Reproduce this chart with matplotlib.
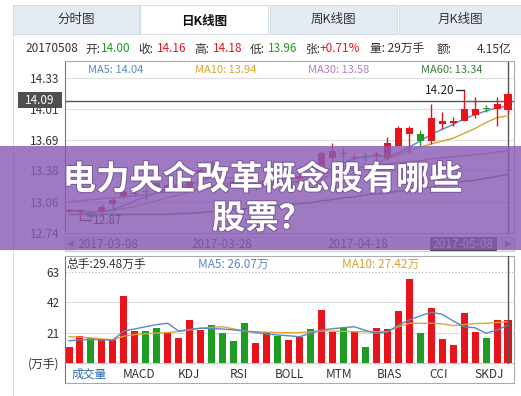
import matplotlib
matplotlib.use("Agg")
import matplotlib.pyplot as plt
from matplotlib.patches import Rectangle
from matplotlib.lines import Line2D
import matplotlib.patheffects as pe
import numpy as np

plt.rcParams['font.family'] = ['Noto Sans CJK SC', 'DejaVu Sans']

W, H = 521, 396

# ---- data ----
opens  = [12.96, 12.95, 12.94, 12.95, 13.04, 13.12, 13.14, 13.17, 13.25, 13.19, 13.22,
          13.21, 13.34, 13.46, 13.33, 13.27, 13.25, 13.20, 13.22, 13.28, 13.26, 13.29,
          13.36, 13.42, 13.51, 13.56, 13.51, 13.53, 13.54, 13.51, 13.63, 13.75, 13.75,
          13.68, 13.86, 13.87, 13.89, 13.95, 14.02, 14.01, 14.00]
closes = [12.97, 12.98, 12.90, 13.01, 13.08, 13.16, 13.15, 13.16, 13.20, 13.23, 13.24,
          13.26, 13.38, 13.40, 13.28, 13.24, 13.20, 13.23, 13.27, 13.25, 13.28, 13.32,
          13.33, 13.56, 13.58, 13.55, 13.52, 13.52, 13.55, 13.66, 13.81, 13.81, 13.68,
          13.92, 13.89, 13.88, 14.01, 14.01, 14.01, 14.06, 14.16]
highs  = [12.98, 12.99, 12.96, 13.04, 13.10, 13.18, 13.17, 13.22, 13.27, 13.25, 13.26,
          13.29, 13.41, 13.49, 13.36, 13.30, 13.28, 13.25, 13.29, 13.31, 13.31, 13.34,
          13.38, 13.58, 13.66, 13.62, 13.55, 13.56, 13.58, 13.72, 13.83, 13.83, 13.79,
          14.06, 13.98, 13.93, 14.20, 14.13, 14.05, 14.13, 14.18]
lows   = [12.95, 12.87, 12.89, 12.93, 12.99, 13.10, 13.12, 13.08, 13.18, 13.17, 13.20,
          13.19, 13.31, 13.32, 13.25, 13.21, 13.17, 13.18, 13.20, 13.23, 13.24, 13.27,
          13.31, 13.41, 13.48, 13.47, 13.48, 13.48, 13.46, 13.49, 13.63, 13.56, 13.63,
          13.65, 13.80, 13.84, 13.89, 13.92, 13.98, 13.83, 13.96]

ma5  = [12.97, 12.96, 12.95, 12.96, 12.98, 13.02, 13.07, 13.11, 13.15, 13.19, 13.22,
        13.24, 13.27, 13.31, 13.31, 13.30, 13.27, 13.25, 13.24, 13.24, 13.25, 13.27,
        13.29, 13.34, 13.40, 13.46, 13.50, 13.52, 13.53, 13.52, 13.56, 13.62, 13.68,
        13.75, 13.80, 13.85, 13.91, 13.95, 13.99, 14.02, 14.04]
ma10 = [12.98, 12.97, 12.96, 12.96, 12.97, 12.99, 13.01, 13.04, 13.07, 13.10, 13.13,
        13.16, 13.19, 13.22, 13.24, 13.26, 13.27, 13.27, 13.27, 13.26, 13.26, 13.26,
        13.27, 13.30, 13.33, 13.36, 13.39, 13.42, 13.45, 13.50, 13.54, 13.58, 13.62,
        13.65, 13.68, 13.71, 13.76, 13.81, 13.87, 13.92, 13.94]
ma30 = [13.06, 13.07, 13.08, 13.09, 13.10, 13.11, 13.12, 13.13, 13.15, 13.16, 13.17,
        13.18, 13.19, 13.21, 13.22, 13.23, 13.24, 13.25, 13.26, 13.28, 13.29, 13.30,
        13.32, 13.34, 13.36, 13.38, 13.40, 13.42, 13.44, 13.45, 13.46, 13.47, 13.48,
        13.50, 13.51, 13.52, 13.53, 13.54, 13.55, 13.57, 13.58]
ma60 = [12.93, 12.93, 12.93, 12.93, 12.93, 12.93, 12.93, 12.93, 12.93, 12.93, 12.94,
        12.94, 12.95, 12.96, 12.97, 12.98, 12.99, 13.00, 13.01, 13.02, 13.03, 13.04,
        13.05, 13.07, 13.08, 13.10, 13.11, 13.13, 13.14, 13.15, 13.17, 13.18, 13.20,
        13.21, 13.23, 13.25, 13.27, 13.28, 13.30, 13.32, 13.34]

volume = [11.2, 18.8, 17.0, 16.3, 16.3, 46.4, 22.3, 22.0, 24.1, 21.6, 17.5, 29.4, 22.8,
          26.4, 20.5, 15.2, 27.4, 13.6, 21.6, 18.6, 15.9, 17.7, 23.4, 36.6, 21.1, 24.4,
          21.1, 11.2, 24.4, 23.4, 35.9, 57.9, 20.9, 37.7, 16.8, 12.2, 34.3, 21.1, 17.5,
          29.4, 29.48]
vol_ma5 = [15.4, 15.9, 16.2, 15.9, 15.9, 22.0, 23.5, 25.0, 26.5, 27.4, 22.0, 23.2, 24.0,
           23.8, 23.4, 22.8, 22.0, 21.0, 20.0, 19.3, 18.8, 18.1, 20.5, 22.8, 23.6, 24.4,
           25.0, 22.5, 20.5, 21.4, 26.0, 29.7, 32.5, 35.0, 33.6, 29.0, 25.0, 24.3, 20.5,
           22.8, 26.1]
vol_ma10 = [18.1, 17.8, 17.3, 16.6, 16.0, 18.5, 19.6, 20.2, 20.6, 20.9, 21.8, 22.8, 24.0,
            24.6, 25.0, 23.5, 22.0, 21.6, 21.3, 21.0, 20.9, 21.0, 21.4, 22.0, 22.0, 21.8,
            21.6, 21.5, 21.6, 21.6, 25.0, 27.4, 27.4, 27.4, 27.0, 25.8, 26.5, 27.2, 27.4,
            27.9, 28.5]

price_ticks = [12.74, 13.06, 13.38, 13.69, 14.01, 14.33]
vol_ticks = [0, 21, 42, 63]
vol_tick_labels = ['(万手)', '21', '42', '63']
dates = ['2017-03-08', '2017-03-28', '2017-04-18', '2017-05-08']
date_px = [108, 222, 358, 463]
tabs = ['分时图', '日K线图', '周K线图', '月K线图']
indicators = ['成交量', 'MACD', 'KDJ', 'RSI', 'BOLL', 'MTM', 'BIAS', 'CCI', 'SKDJ']

RED = '#e8141c'
GREEN = '#1f9c22'
C_MA5 = '#5b88c4'
C_MA10 = '#d6a32e'
C_MA30 = '#b07ccc'
C_MA60 = '#3a7d3a'
TXT = '#333333'


def fx(px):
    return px / W


def fy(py):
    return 1 - py / H


fig = plt.figure(figsize=(5.21, 3.96), dpi=100)
fig.patch.set_facecolor('white')

# ---- tabs ----
tab_x = [(13, 139), (140, 268), (270, 397), (399, 521)]
for i, (name, (a, b)) in enumerate(zip(tabs, tab_x)):
    active = (i == 1)
    fig.add_artist(Rectangle((fx(a), fy(34)), (b - a) / W, 29 / H, transform=fig.transFigure,
                             facecolor='white' if active else '#e5ebf2',
                             edgecolor='#d3dbe4', lw=0.8))
    fig.text(fx((a + b) / 2), fy(21 if active else 19), name, ha='center', va='center',
             fontsize=9, color='#111111' if active else '#333333',
             fontweight='bold' if active else 'normal')
fig.add_artist(Line2D([fx(13), fx(13)], [fy(34), 0], transform=fig.transFigure,
                      color='#dddddd', lw=0.8))

# ---- info line ----
info = [(25, '20170508', TXT), (85, '开:', TXT), (101, '14.00', GREEN),
        (138, '收:', TXT), (157, '14.16', RED), (194, '高:', TXT), (213, '14.18', RED),
        (250, '低:', TXT), (268, '13.96', GREEN), (306, '张:', TXT), (320, '+0.71%', RED),
        (370, '量: 29万手', TXT), (437, '额:', TXT), (477, '4.15亿', TXT)]
for x, s, c in info:
    fig.text(fx(x), fy(49), s, ha='left', va='center', fontsize=8.5, color=c)

# ---- main candlestick panel ----
n = len(closes)
idx = np.arange(n)
x0 = 69
step = (508 - 69) / (n - 1)
xl = ((65 - x0) / step, (514 - x0) / step)

ax = fig.add_axes([fx(65), fy(233), (514 - 65) / W, (233 - 61) / H])
ax.set_xlim(*xl)
ax.set_ylim(12.74, 14.50)
for v in price_ticks[1:]:
    ax.axhline(v, color='#dedede', lw=0.8, zorder=0)
ax.axhline(14.09, color='#555555', lw=1, zorder=1)
ax.axvline(n - 1, color='#555555', lw=1, zorder=1)

o = np.array(opens)
c = np.array(closes)
up = c >= o
cols = [RED if u else GREEN for u in up]
ax.vlines(idx, lows, highs, colors=cols, lw=1, zorder=3)
body_lo = np.minimum(o, c)
body_h = np.maximum(np.abs(c - o), 0.012)
ax.bar(idx, body_h, bottom=body_lo, width=0.64, color=cols, zorder=4)

ax.plot(idx, ma60, color=C_MA60, lw=1, zorder=2)
ax.plot(idx, ma30, color=C_MA30, lw=1, zorder=2)
ax.plot(idx, ma10, color=C_MA10, lw=1, zorder=2)
ax.plot(idx, ma5, color=C_MA5, lw=1, zorder=2)

# high / low markers
ax.plot([35.25, 36], [14.20, 14.20], color='#222222', lw=0.9, zorder=5)
ax.text(35.15, 14.20, '14.20', ha='right', va='center', fontsize=8.5, color='#222222')
ax.plot([1, 2.05], [12.87, 12.87], color='#222222', lw=0.9, zorder=5)
ax.text(2.15, 12.87, '12.87', ha='left', va='center', fontsize=8.5, color='#222222')

ax.set_yticks(price_ticks)
ax.set_yticklabels([f'{v:.2f}' for v in price_ticks])
ax.tick_params(axis='y', length=0, pad=4, labelsize=8.5, labelcolor=TXT)
ax.set_xticks([])
for s in ax.spines.values():
    s.set_color('#aaaaaa')
    s.set_linewidth(0.8)
ax.spines['left'].set_color('#777777')

ma_labels = [(88, 'MA5: 14.04', C_MA5), (195, 'MA10: 13.94', C_MA10),
             (308, 'MA30: 13.58', C_MA30), (421, 'MA60: 13.34', C_MA60)]
for x, s, col in ma_labels:
    fig.text(fx(x), fy(70), s, ha='left', va='center', fontsize=8, color=col)

# current price tag
fig.add_artist(Rectangle((fx(18), fy(108)), 44 / W, 16 / H, transform=fig.transFigure,
                         facecolor='#4f4f4f', edgecolor='none', zorder=5))
fig.text(fx(40), fy(100), '14.09', ha='center', va='center', fontsize=8.5, color='white',
         zorder=6)

# ---- date strip ----
fig.add_artist(Rectangle((fx(65), fy(251)), (514 - 65) / W, 14 / H, transform=fig.transFigure,
                         facecolor='#f3f3f3', edgecolor='#cfcfcf', lw=0.8))
fig.add_artist(Rectangle((fx(65), fy(251)), 10 / W, 14 / H, transform=fig.transFigure,
                         facecolor='#e6e6e6', edgecolor='#cfcfcf', lw=0.8))
fig.add_artist(Rectangle((fx(502), fy(251)), 12 / W, 14 / H, transform=fig.transFigure,
                         facecolor='#e6e6e6', edgecolor='#cfcfcf', lw=0.8))
fig.text(fx(70), fy(244), '◀', ha='center', va='center', fontsize=6, color='#666666',
         family='DejaVu Sans')
fig.text(fx(508), fy(244), '▶', ha='center', va='center', fontsize=6, color='#666666',
         family='DejaVu Sans')
fig.add_artist(Rectangle((fx(430), fy(251)), 67 / W, 14 / H, transform=fig.transFigure,
                         facecolor='#4f4f4f', edgecolor='none'))
for d, px in zip(dates, date_px):
    fig.text(fx(px), fy(244), d, ha='center', va='center', fontsize=8.5,
             color='white' if d == dates[-1] else TXT)

# ---- volume panel ----
ax2 = fig.add_axes([fx(65), fy(383), (514 - 65) / W, (383 - 256) / H])
ax2.set_xlim(*xl)
ax2.set_ylim(-13.8, 73.8)
ax2.axhline(0, color='#cccccc', lw=0.8)
ax2.axhline(21, color='#dcdcdc', lw=0.8)
ax2.axhline(42, color='#dcdcdc', lw=0.8)
ax2.axhline(63, color='#b5b5b5', lw=0.8, ls=(0, (1, 2)))
ax2.bar(idx, volume, width=0.64, color=cols, zorder=2)
ax2.plot(idx, vol_ma10, color='#e3a23a', lw=1, zorder=3)
ax2.plot(idx, vol_ma5, color=C_MA5, lw=1, zorder=3)
ax2.axvline(n - 1, ymin=13.8 / 87.6, color='#555555', lw=1, zorder=4)
ax2.set_yticks(vol_ticks)
ax2.set_yticklabels(vol_tick_labels)
ax2.tick_params(axis='y', length=0, pad=4, labelsize=8.5, labelcolor=TXT)
ax2.set_xticks([])
for s in ax2.spines.values():
    s.set_color('#aaaaaa')
    s.set_linewidth(0.8)
ax2.spines['left'].set_color('#777777')

fig.text(fx(66), fy(264), '总手:29.48万手', ha='left', va='center', fontsize=8.5, color=TXT)
fig.text(fx(198), fy(264), 'MA5: 26.07万', ha='left', va='center', fontsize=8.5, color=C_MA5)
fig.text(fx(342), fy(264), 'MA10: 27.42万', ha='left', va='center', fontsize=8.5,
         color=C_MA10)
for k, name in enumerate(indicators):
    fig.text(fx(89 + 50 * k), fy(374), name, ha='center', va='center', fontsize=8.5,
             color='#2a66b0' if k == 0 else TXT)

# ---- title banner ----
fig.add_artist(Rectangle((0, fy(250)), 1, 104 / H, transform=fig.transFigure,
                         facecolor='#8a5bb5', alpha=0.82, edgecolor='none', zorder=10))
shadow = [pe.withStroke(linewidth=1.5, foreground='#7a5a9a')]
fig.text(fx(263), fy(180), '电力央企改革概念股有哪些', ha='center', va='center',
         fontsize=24, fontweight='bold', color='white', zorder=11, path_effects=shadow)
fig.text(fx(262), fy(219), '股票？', ha='center', va='center',
         fontsize=24, fontweight='bold', color='white', zorder=11, path_effects=shadow)

fig.savefig('out.png', dpi=100)
